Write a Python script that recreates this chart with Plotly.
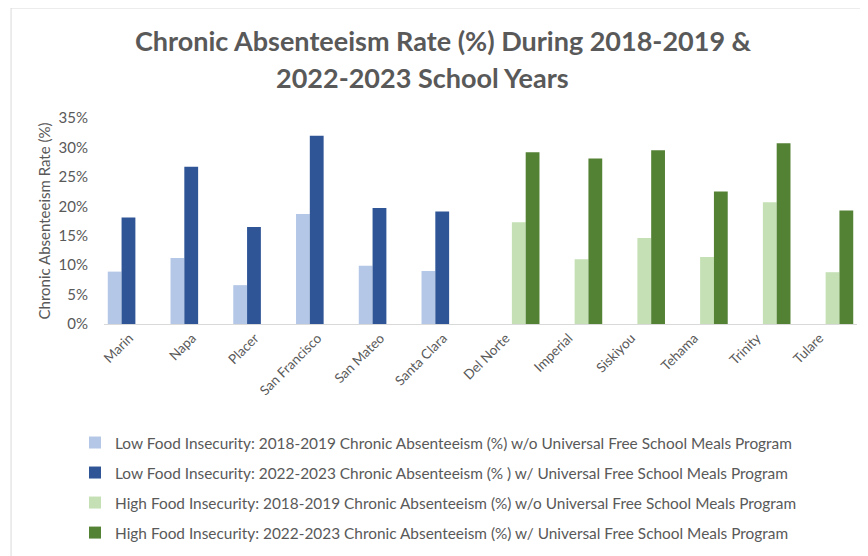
import plotly.graph_objects as go

counties = ["Marin", "Napa", "Placer", "San Francisco", "San Mateo", "Santa Clara",
            "Del Norte", "Imperial", "Siskiyou", "Tehama", "Trinity", "Tulare"]

low_2019 = [8.9, 11.2, 6.6, 18.7, 9.9, 9.0, None, None, None, None, None, None]
low_2023 = [18.1, 26.7, 16.5, 32.0, 19.7, 19.1, None, None, None, None, None, None]
high_2019 = [None, None, None, None, None, None, 17.3, 11.0, 14.6, 11.4, 20.7, 8.8]
high_2023 = [None, None, None, None, None, None, 29.2, 28.1, 29.5, 22.5, 30.7, 19.3]

series_names = [
    "Low Food Insecurity: 2018-2019 Chronic Absenteeism (%) w/o Universal Free School Meals Program",
    "Low Food Insecurity: 2022-2023 Chronic Absenteeism (% ) w/ Universal Free School Meals Program",
    "High Food Insecurity: 2018-2019 Chronic Absenteeism (%) w/o Universal Free School Meals Program",
    "High Food Insecurity: 2022-2023 Chronic Absenteeism (%) w/ Universal Free School Meals Program",
]
series_values = [low_2019, low_2023, high_2019, high_2023]
series_colors = ["#B4C7E7", "#2F5597", "#C5E0B4", "#548235"]

y_ticks = [0, 5, 10, 15, 20, 25, 30, 35]

FONT = "Lato, 'Open Sans', sans-serif"
GRAY = "#595959"

# the page has an 8px body margin, so the figure is drawn 8px in from the window edge
OFF = 8
W, H = 868 - OFF, 556 - OFF
PL, PR, PT, PB = 104 - OFF, 857.5 - OFF, 118 - OFF, 324 - OFF
PW, PH = PR - PL, PB - PT


def px(xs):
    return (xs - OFF - PL) / PW


def py(ys):
    return (PB - (ys - OFF)) / PH


fig = go.Figure()
for i, (name, vals, col) in enumerate(zip(series_names, series_values, series_colors)):
    fig.add_trace(go.Bar(
        x=counties, y=vals, name=name, marker=dict(color=col, line=dict(width=0)),
        legendgroup=f"g{i}",
    ))

fig.update_layout(
    width=W, height=H,
    margin=dict(l=PL, r=W - PR, t=PT, b=H - PB, autoexpand=False),
    paper_bgcolor="white", plot_bgcolor="white",
    barmode="group", bargap=0.12, bargroupgap=0,
    font=dict(family=FONT, color=GRAY, size=14),
    showlegend=True,
    legend=dict(
        orientation="v", x=px(75), xanchor="left", y=py(426), yanchor="top",
        font=dict(family=FONT, size=15.4, color=GRAY),
        tracegroupgap=7, itemsizing="constant", bgcolor="rgba(0,0,0,0)",
    ),
    xaxis=dict(
        showline=True, linecolor="#D9D9D9", linewidth=1, ticks="",
        tickangle=-45, tickfont=dict(size=13.5, color=GRAY), showgrid=False,
        ticklabelshift=-6, automargin=False,
    ),
    yaxis=dict(
        range=[0, 35], tickvals=y_ticks, ticktext=[f"{v}%" for v in y_ticks],
        showgrid=False, zeroline=False, showline=False, ticks="",
        tickfont=dict(size=15, color=GRAY), ticklabelstandoff=15,
        title=dict(text="Chronic Absenteeism Rate (%)", font=dict(size=15, color=GRAY), standoff=4),
        automargin=False,
    ),
    annotations=[
        dict(text="<b>Chronic Absenteeism Rate (%) During 2018-2019 &</b>", xref="paper", yref="paper",
             x=px(444), y=py(41), xanchor="center", yanchor="middle",
             showarrow=False, font=dict(family=FONT, size=27, color=GRAY)),
        dict(text="<b>2022-2023 School Years</b>", xref="paper", yref="paper",
             x=px(423), y=py(77), xanchor="center", yanchor="middle",
             showarrow=False, font=dict(family=FONT, size=27, color=GRAY)),
    ],
    shapes=[
        dict(type="rect", xref="paper", yref="paper",
             x0=px(11), x1=px(867), y0=py(600), y1=py(8),
             line=dict(color="#D9D9D9", width=1), fillcolor="rgba(0,0,0,0)", layer="below"),
    ],
)

fig.write_html("out.html")
